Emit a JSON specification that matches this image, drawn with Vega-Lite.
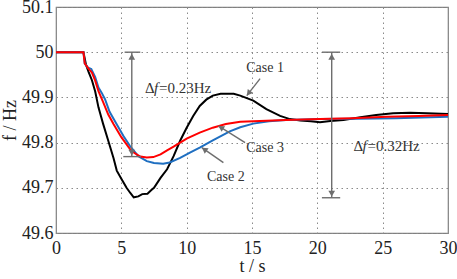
{
  "$schema": "https://vega.github.io/schema/vega-lite/v6.json",
  "width": 392,
  "height": 226,
  "autosize": {"type": "none"},
  "padding": {"left": 56, "top": 7, "right": 9, "bottom": 46},
  "background": "white",
  "config": {
    "view": {"stroke": "#808080", "strokeWidth": 1.2},
    "axis": {
      "labelFontSize": 18,
      "labelColor": "#222222",
      "titleFontSize": 18,
      "titleFontWeight": "normal",
      "titleColor": "#222222",
      "grid": true,
      "gridColor": "#8a8a8a",
      "gridDash": [1.5, 3.5],
      "gridWidth": 1,
      "ticks": false,
      "domain": false,
      "labelFlush": false,
      "labelOverlap": false
    }
  },
  "layer": [
    {
      "data": {"values": [
        {"series": "Case 1", "t": 0, "f": 50},
        {"series": "Case 1", "t": 2.1, "f": 50},
        {"series": "Case 1", "t": 2.3, "f": 49.972},
        {"series": "Case 1", "t": 2.5, "f": 49.956},
        {"series": "Case 1", "t": 2.75, "f": 49.938},
        {"series": "Case 1", "t": 3.0, "f": 49.913},
        {"series": "Case 1", "t": 3.25, "f": 49.878},
        {"series": "Case 1", "t": 3.6, "f": 49.842},
        {"series": "Case 1", "t": 4.0, "f": 49.804},
        {"series": "Case 1", "t": 4.4, "f": 49.766},
        {"series": "Case 1", "t": 4.65, "f": 49.738},
        {"series": "Case 1", "t": 5.0, "f": 49.72},
        {"series": "Case 1", "t": 5.4, "f": 49.70},
        {"series": "Case 1", "t": 5.7, "f": 49.688},
        {"series": "Case 1", "t": 5.95, "f": 49.679},
        {"series": "Case 1", "t": 6.3, "f": 49.681},
        {"series": "Case 1", "t": 6.6, "f": 49.686},
        {"series": "Case 1", "t": 7.0, "f": 49.687},
        {"series": "Case 1", "t": 7.3, "f": 49.695},
        {"series": "Case 1", "t": 7.5, "f": 49.70},
        {"series": "Case 1", "t": 8.0, "f": 49.722},
        {"series": "Case 1", "t": 8.5, "f": 49.741},
        {"series": "Case 1", "t": 9.0, "f": 49.77},
        {"series": "Case 1", "t": 9.5, "f": 49.804},
        {"series": "Case 1", "t": 10.0, "f": 49.833},
        {"series": "Case 1", "t": 10.5, "f": 49.859},
        {"series": "Case 1", "t": 11.0, "f": 49.881},
        {"series": "Case 1", "t": 11.5, "f": 49.895},
        {"series": "Case 1", "t": 12.0, "f": 49.904},
        {"series": "Case 1", "t": 12.6, "f": 49.908},
        {"series": "Case 1", "t": 13.6, "f": 49.908},
        {"series": "Case 1", "t": 14.1, "f": 49.904},
        {"series": "Case 1", "t": 15.1, "f": 49.893},
        {"series": "Case 1", "t": 16.1, "f": 49.874},
        {"series": "Case 1", "t": 17.15, "f": 49.859},
        {"series": "Case 1", "t": 17.9, "f": 49.852},
        {"series": "Case 1", "t": 18.7, "f": 49.849},
        {"series": "Case 1", "t": 19.5, "f": 49.847},
        {"series": "Case 1", "t": 20.2, "f": 49.845},
        {"series": "Case 1", "t": 21.0, "f": 49.848},
        {"series": "Case 1", "t": 22.0, "f": 49.85},
        {"series": "Case 1", "t": 23.3, "f": 49.856},
        {"series": "Case 1", "t": 24.5, "f": 49.861},
        {"series": "Case 1", "t": 25.8, "f": 49.865},
        {"series": "Case 1", "t": 27.1, "f": 49.866},
        {"series": "Case 1", "t": 28.4, "f": 49.865},
        {"series": "Case 1", "t": 30, "f": 49.863},
        {"series": "Case 2", "t": 0, "f": 50},
        {"series": "Case 2", "t": 2.1, "f": 50},
        {"series": "Case 2", "t": 2.2, "f": 49.975},
        {"series": "Case 2", "t": 2.45, "f": 49.966},
        {"series": "Case 2", "t": 2.7, "f": 49.963},
        {"series": "Case 2", "t": 3.0, "f": 49.945},
        {"series": "Case 2", "t": 3.25, "f": 49.922},
        {"series": "Case 2", "t": 3.5, "f": 49.91},
        {"series": "Case 2", "t": 3.75, "f": 49.896},
        {"series": "Case 2", "t": 4.1, "f": 49.868},
        {"series": "Case 2", "t": 4.6, "f": 49.843},
        {"series": "Case 2", "t": 5.15, "f": 49.815},
        {"series": "Case 2", "t": 5.65, "f": 49.793},
        {"series": "Case 2", "t": 6.3, "f": 49.770},
        {"series": "Case 2", "t": 6.95, "f": 49.759},
        {"series": "Case 2", "t": 7.5, "f": 49.755},
        {"series": "Case 2", "t": 8.2, "f": 49.753},
        {"series": "Case 2", "t": 8.7, "f": 49.756},
        {"series": "Case 2", "t": 9.5, "f": 49.766},
        {"series": "Case 2", "t": 10.25, "f": 49.778},
        {"series": "Case 2", "t": 11.0, "f": 49.789},
        {"series": "Case 2", "t": 12.0, "f": 49.805},
        {"series": "Case 2", "t": 13.3, "f": 49.825},
        {"series": "Case 2", "t": 14.1, "f": 49.834},
        {"series": "Case 2", "t": 15.1, "f": 49.842},
        {"series": "Case 2", "t": 16.3, "f": 49.847},
        {"series": "Case 2", "t": 17.6, "f": 49.85},
        {"series": "Case 2", "t": 20.2, "f": 49.852},
        {"series": "Case 2", "t": 23, "f": 49.853},
        {"series": "Case 2", "t": 26, "f": 49.854},
        {"series": "Case 2", "t": 30, "f": 49.857},
        {"series": "Case 3", "t": 0, "f": 50},
        {"series": "Case 3", "t": 2.1, "f": 50},
        {"series": "Case 3", "t": 2.2, "f": 49.975},
        {"series": "Case 3", "t": 2.5, "f": 49.963},
        {"series": "Case 3", "t": 2.75, "f": 49.955},
        {"series": "Case 3", "t": 3.0, "f": 49.937},
        {"series": "Case 3", "t": 3.25, "f": 49.914},
        {"series": "Case 3", "t": 3.6, "f": 49.89},
        {"series": "Case 3", "t": 4.0, "f": 49.862},
        {"series": "Case 3", "t": 4.4, "f": 49.841},
        {"series": "Case 3", "t": 5.0, "f": 49.812},
        {"series": "Case 3", "t": 5.65, "f": 49.786},
        {"series": "Case 3", "t": 6.0, "f": 49.777},
        {"series": "Case 3", "t": 6.45, "f": 49.769},
        {"series": "Case 3", "t": 6.95, "f": 49.767},
        {"series": "Case 3", "t": 7.45, "f": 49.768},
        {"series": "Case 3", "t": 8.0, "f": 49.774},
        {"series": "Case 3", "t": 8.5, "f": 49.783},
        {"series": "Case 3", "t": 9.0, "f": 49.791},
        {"series": "Case 3", "t": 9.5, "f": 49.80},
        {"series": "Case 3", "t": 10.0, "f": 49.809},
        {"series": "Case 3", "t": 11.0, "f": 49.822},
        {"series": "Case 3", "t": 12.0, "f": 49.833},
        {"series": "Case 3", "t": 13.0, "f": 49.841},
        {"series": "Case 3", "t": 14.1, "f": 49.846},
        {"series": "Case 3", "t": 15.6, "f": 49.848},
        {"series": "Case 3", "t": 17.6, "f": 49.85},
        {"series": "Case 3", "t": 20.2, "f": 49.852},
        {"series": "Case 3", "t": 22.7, "f": 49.854},
        {"series": "Case 3", "t": 25.3, "f": 49.857},
        {"series": "Case 3", "t": 27.8, "f": 49.859},
        {"series": "Case 3", "t": 30, "f": 49.861}
      ]},
      "mark": {"type": "line", "strokeWidth": 2, "clip": true},
      "encoding": {
        "x": {
          "field": "t", "type": "quantitative",
          "scale": {"domain": [0, 30], "nice": false},
          "axis": {"values": [0, 5, 10, 15, 20, 25, 30], "title": "t / s", "labelFont": "Liberation Serif", "titleFont": "Liberation Serif", "labelPadding": 6, "titlePadding": 0}
        },
        "y": {
          "field": "f", "type": "quantitative",
          "scale": {"domain": [49.6, 50.1], "nice": false, "zero": false},
          "axis": {"values": [49.6, 49.7, 49.8, 49.9, 50, 50.1], "format": ".1~f", "title": "f / Hz", "labelFont": "Liberation Serif", "titleFont": "Liberation Serif", "labelPadding": 3, "titlePadding": 2}
        },
        "color": {
          "field": "series", "type": "nominal",
          "scale": {"domain": ["Case 1", "Case 2", "Case 3"], "range": ["#000000", "#1f6fc1", "#ff0000"]},
          "legend": null
        }
      }
    },
    {
      "data": {"values": [
        {"t": 5.8, "f": 50, "t2": 5.8, "f2": 49.769},
        {"t": 5.25, "f": 50, "t2": 6.45, "f2": 50},
        {"t": 5.15, "f": 49.769, "t2": 6.5, "f2": 49.769},
        {"t": 21.1, "f": 50, "t2": 21.1, "f2": 49.678},
        {"t": 20.35, "f": 50, "t2": 21.75, "f2": 50},
        {"t": 20.35, "f": 49.678, "t2": 21.75, "f2": 49.678},
        {"t": 15.62, "f": 49.9416, "t2": 14.6, "f2": 49.9038},
        {"t": 14.47, "f": 49.80, "t2": 12.43, "f2": 49.837},
        {"t": 12.81, "f": 49.7556, "t2": 11.16, "f2": 49.789}
      ]},
      "mark": {"type": "rule", "color": "#6e6e6e", "strokeWidth": 1.4},
      "encoding": {
        "x": {"field": "t", "type": "quantitative"},
        "y": {"field": "f", "type": "quantitative"},
        "x2": {"field": "t2"},
        "y2": {"field": "f2"}
      }
    },
    {
      "data": {"values": [
        {"t": 5.8, "f": 49.99, "angle": 0},
        {"t": 5.8, "f": 49.778, "angle": 180},
        {"t": 21.1, "f": 49.99, "angle": 0},
        {"t": 21.1, "f": 49.687, "angle": 180},
        {"t": 14.74, "f": 49.909, "angle": 218},
        {"t": 12.62, "f": 49.8335, "angle": 302},
        {"t": 11.35, "f": 49.785, "angle": 305}
      ]},
      "mark": {"type": "point", "shape": "triangle-up", "filled": true, "color": "#6e6e6e", "opacity": 1, "size": 45},
      "encoding": {
        "x": {"field": "t", "type": "quantitative"},
        "y": {"field": "f", "type": "quantitative"},
        "angle": {"field": "angle", "type": "quantitative", "scale": null}
      }
    },
    {
      "data": {"values": [
        {"t": 16.0, "f": 49.966, "label": "Case 1"},
        {"t": 16.0, "f": 49.788, "label": "Case 3"},
        {"t": 13.0, "f": 49.724, "label": "Case 2"}
      ]},
      "mark": {"type": "text", "font": "Liberation Serif", "fontSize": 14, "color": "#333333", "align": "center", "baseline": "middle"},
      "encoding": {
        "x": {"field": "t", "type": "quantitative"},
        "y": {"field": "f", "type": "quantitative"},
        "text": {"field": "label"}
      }
    },
    {
      "data": {"name": "df"},
      "layer": [
        {
          "mark": {"type": "text", "font": "Liberation Serif", "fontSize": 15, "color": "#333333", "align": "left", "baseline": "middle"},
          "encoding": {
            "x": {"field": "t", "type": "quantitative"},
            "y": {"field": "f", "type": "quantitative"},
            "text": {"field": "sym"}
          }
        },
        {
          "mark": {"type": "text", "font": "Liberation Serif", "fontSize": 15, "fontStyle": "italic", "color": "#333333", "align": "left", "baseline": "middle", "dx": 9},
          "encoding": {
            "x": {"field": "t", "type": "quantitative"},
            "y": {"field": "f", "type": "quantitative"},
            "text": {"field": "var"}
          }
        },
        {
          "mark": {"type": "text", "font": "Liberation Serif", "fontSize": 15, "color": "#333333", "align": "left", "baseline": "middle", "dx": 14},
          "encoding": {
            "x": {"field": "t", "type": "quantitative"},
            "y": {"field": "f", "type": "quantitative"},
            "text": {"field": "rest"}
          }
        }
      ]
    }
  ],
  "datasets": {
    "df": [
      {"t": 6.81, "f": 49.92, "sym": "Δ", "var": "f", "rest": "=0.23Hz"},
      {"t": 22.77, "f": 49.793, "sym": "Δ", "var": "f", "rest": "=0.32Hz"}
    ]
  }
}
